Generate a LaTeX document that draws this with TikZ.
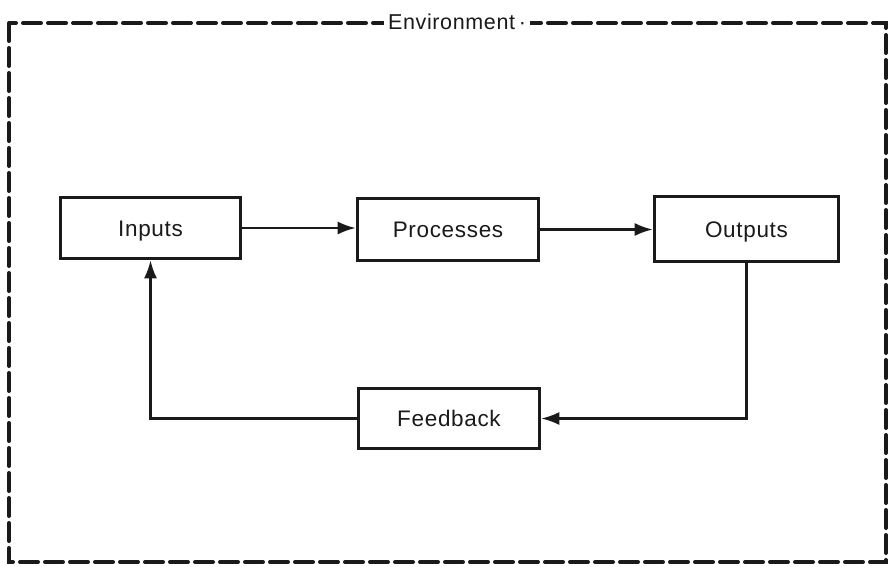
\documentclass[tikz,border=0pt]{standalone}
\usepackage{fontspec}
\setmainfont{Liberation Sans}[LetterSpace=3]
\usetikzlibrary{arrows.meta}
\definecolor{ink}{HTML}{1A1A1A}
\tikzset{
  blockbox/.style={draw=ink, line width=3.6pt, inner sep=0pt, text=ink,
    text height=16pt, text depth=0pt,
    font=\fontsize{22.5}{26}\selectfont},
  link/.style={draw=ink, line width=2.2pt},
  linkarrow/.style={link, -{Latex[length=18pt,width=13pt]}},
  envborder/.style={draw=ink, line width=4pt, dash pattern=on 18pt off 7pt, line cap=round},
  envlabel/.style={fill=white, text=ink, inner sep=4pt, font=\fontsize{21.5}{25}\selectfont}
}
\begin{document}
\begin{tikzpicture}[x=1pt, y=-1pt]
\useasboundingbox (0,0) rectangle (890,566);
\fill[white] (0,0) rectangle (890,566);
% environment border
\draw[envborder] (9,23) rectangle (886,562);
\node[envlabel] (env) at (457,22) {Environment\,·};
% blocks
\node[blockbox, minimum width=180pt, minimum height=61pt] (inputs) at (150.5,228) {Inputs};
\node[blockbox, minimum width=181pt, minimum height=62pt] (proc) at (448,229.5) {Processes};
\node[blockbox, minimum width=184pt, minimum height=65pt] (outputs) at (746.5,229) {Outputs};
\node[blockbox, minimum width=181pt, minimum height=60pt] (feed) at (449,418.5) {Feedback};
% connectors
\draw[linkarrow] (inputs.east) -- (inputs.east -| proc.west);
\draw[linkarrow] (proc.east) -- (proc.east -| outputs.west);
\draw[linkarrow] (outputs.south) |- (feed.east);
\draw[linkarrow] (feed.west) -| (inputs.south);
\end{tikzpicture}
\end{document}
